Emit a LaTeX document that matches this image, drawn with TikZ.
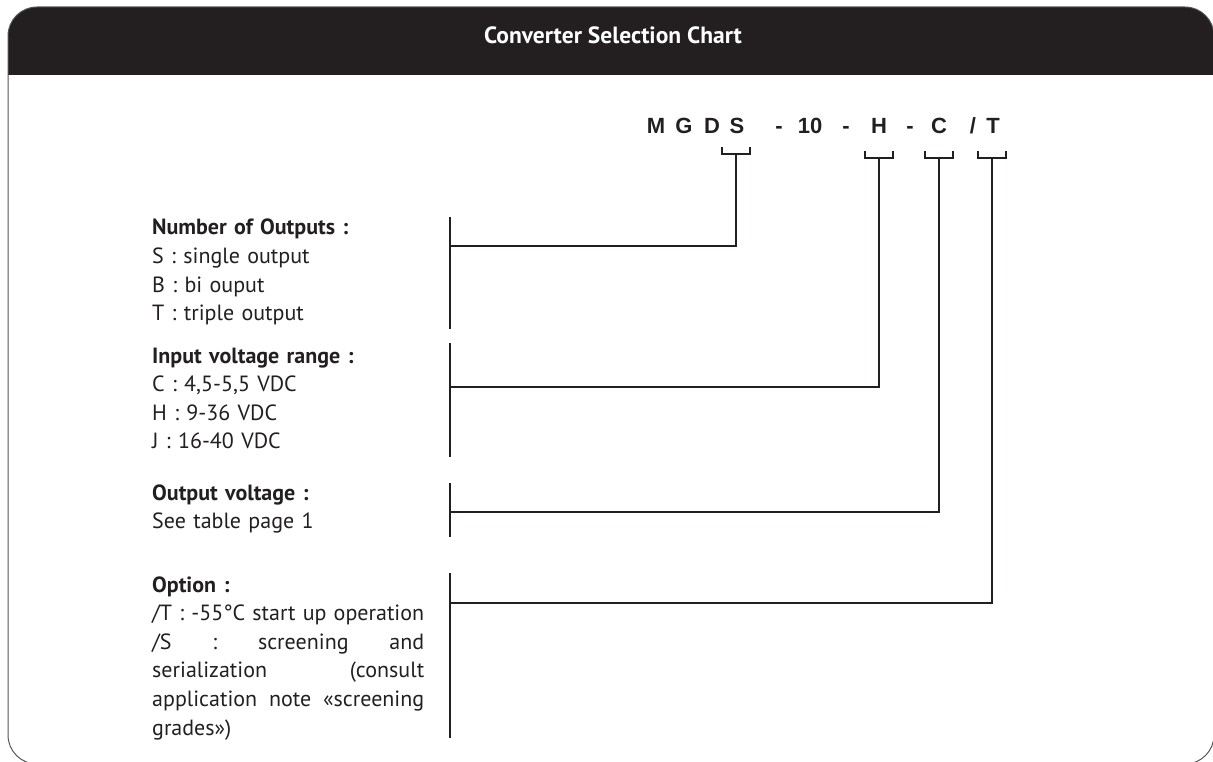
\documentclass[tikz,border=0pt]{standalone}
\usepackage{fontspec}
\setmainfont{PT Sans}
\newfontfamily\codefont{Liberation Sans}
\usepackage{xcolor}
\definecolor{hdrblack}{HTML}{231F20}
\definecolor{framegray}{HTML}{555555}

\begin{document}
\begin{tikzpicture}[x=1pt,y=-1pt]
\tikzset{bar/.style={line width=2.2pt,draw=hdrblack}}
\tikzset{codeglyph/.style={font=\codefont\bfseries\fontsize{22}{22}\selectfont,text=hdrblack,inner sep=0pt,anchor=base}}
\tikzset{legend/.style={text width=272pt,inner sep=0pt,anchor=base west,text=hdrblack,
  font=\fontsize{22}{28.6}\selectfont}}

\useasboundingbox (0,0) rectangle (1213,762);

% frame and header
\begin{scope}
\clip[rounded corners=29] (8,7) rectangle (1214,764);
\fill[hdrblack] (8,7) rectangle (1214,75);
\end{scope}
\draw[framegray,line width=1pt,rounded corners=29] (8,7) rectangle (1214,764);
\node[text=white,font=\bfseries\fontsize{23.5}{23.5}\selectfont,anchor=base] (title) at (613,44) {Converter Selection Chart};

% part number
\foreach \x/\c in {656/M,684/G,712/D,737/S,779/-,810/10,846/-,879/H,910/-,939/C,973/{/},993/T}
  \node[codeglyph] at (\x,134) {\c};

% brackets under the code
\foreach \n/\x/\t in {S/736/147,H/879/151,C/939/151,T/992/151} {
  \draw[bar] (\x-14,\t) -- ++(0,7) -- ++(28,0) -- ++(0,-7);
  \coordinate (stem\n) at (\x,\t+7);
}

% bars beside the legends
\foreach \n/\top/\bot/\mid in {S/217/329/246,H/343/457/387,C/483/537/512,T/573/738/603} {
  \draw[bar] (450,\top) -- (450,\bot);
  \coordinate (bar\n) at (450,\mid);
}

\foreach \n in {S,H,C,T}
  \draw[bar] (stem\n) |- (bar\n);

% legends
\node[legend,align=left] (outputs) at (152,235) {\textbf{Number of Outputs :}\\S : single output\\B : bi ouput\\T : triple output};
\node[legend,align=left] (input) at (152,363) {\textbf{Input voltage range :}\\C : 4,5-5,5 VDC\\H : 9-36 VDC\\J : 16-40 VDC};
\node[legend,align=left] (voltage) at (152,500) {\textbf{Output voltage :}\\See table page 1};
\node[legend,align=left] (option) at (152,592) {\textbf{Option :}\\
  \makebox[272pt][s]{/T\hfill:\hfill-55°C\hfill start\hfill up\hfill operation}\\
  \makebox[272pt][s]{/S\hfill:\hfill screening\hfill and}\\
  \makebox[272pt][s]{serialization\hfill(consult}\\
  \makebox[272pt][s]{application\hfill note\hfill «screening}\\
  grades»)};

\end{tikzpicture}
\end{document}
